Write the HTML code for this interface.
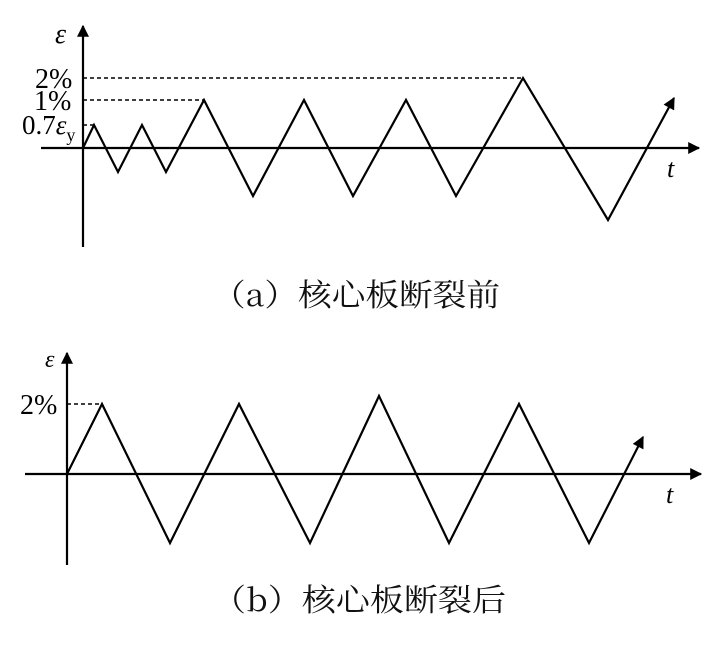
<!DOCTYPE html>
<html><head><meta charset="utf-8"><style>html,body{margin:0;padding:0;background:#fff;}svg{display:block}</style></head>
<body>
<svg width="723" height="651" viewBox="0 0 723 651" xmlns="http://www.w3.org/2000/svg">
<defs>
<marker id="ar2" viewBox="0 0 10 10" refX="9" refY="5" markerWidth="14" markerHeight="12" markerUnits="userSpaceOnUse" orient="auto"><path d="M0,0L10,5L0,10z" fill="#000"/></marker>
</defs>
<g stroke="#000" fill="none" stroke-width="2.2">
<line x1="83" y1="247" x2="83" y2="26" marker-end="url(#ar2)"/>
<line x1="41" y1="148" x2="699" y2="148" marker-end="url(#ar2)"/>
<line x1="83" y1="78" x2="523" y2="78" stroke-dasharray="4,3" stroke-width="1.6"/>
<line x1="83" y1="100" x2="204" y2="100" stroke-dasharray="4,3" stroke-width="1.6"/>
<line x1="83" y1="125" x2="94" y2="125" stroke-dasharray="4,3" stroke-width="1.6"/>
<polyline points="83,148 94,125 118,172 142,125 166,172 204,100 253,196 304,100 353,196 406,100 456,196 523,78 608,220 674,98" marker-end="url(#ar2)"/>
<line x1="67" y1="565" x2="67" y2="353" marker-end="url(#ar2)"/>
<line x1="25" y1="474" x2="701" y2="474" marker-end="url(#ar2)"/>
<line x1="67" y1="404" x2="102" y2="404" stroke-dasharray="4,3" stroke-width="1.6"/>
<polyline points="67,474 102,404 170,543 239,404 310,543 379,396 449,543 519,404 589,543 643,437" marker-end="url(#ar2)"/>
</g>
<g font-family="Liberation Serif, serif" fill="#000">
<text x="55" y="43" font-size="28" font-style="italic">ε</text>
<text x="35" y="88" font-size="28">2%</text>
<text x="34" y="110" font-size="28">1%</text>
<text x="22" y="134" font-size="27">0.7<tspan font-style="italic">ε</tspan><tspan font-size="18" dy="7">y</tspan></text>
<text x="667" y="177" font-size="26" font-style="italic">t</text>
<text x="45" y="367" font-size="24" font-style="italic">ε</text>
<text x="20" y="414" font-size="28">2%</text>
<text x="666" y="503" font-size="26" font-style="italic">t</text>
</g>
<g font-family="'Noto Serif CJK SC', serif" font-size="31" fill="#111">
<text x="212" y="306" textLength="288" lengthAdjust="spacingAndGlyphs">（a）核心板断裂前</text>
<text x="212" y="611" textLength="294" lengthAdjust="spacingAndGlyphs">（b）核心板断裂后</text>
</g>
</svg>
</body></html>
